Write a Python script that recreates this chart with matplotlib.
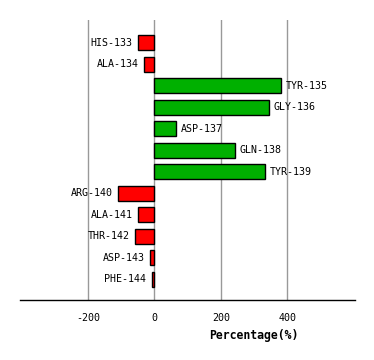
import matplotlib
matplotlib.use("Agg")
import matplotlib.pyplot as plt

residues = ["HIS-133", "ALA-134", "TYR-135", "GLY-136", "ASP-137", "GLN-138",
            "TYR-139", "ARG-140", "ALA-141", "THR-142", "ASP-143", "PHE-144"]
values = [-48, -30, 380, 344, 66, 242, 332, -108, -48, -57, -12, -8]
xticks = [-200, 0, 200, 400]

W, H = 374, 360
fig = plt.figure(figsize=(W / 100, H / 100), dpi=100)
ax = fig.add_axes([20 / W, 1 - 300.3 / H, 334.7 / W, 280.3 / H])

font = "DejaVu Sans Mono"
pos = list(range(len(residues)))
colors = ["#00b000" if v > 0 else "#ff0000" for v in values]
ax.barh(pos, values, height=0.7, color=colors, edgecolor="black", linewidth=1.0, zorder=3)

for p, v, name in zip(pos, values, residues):
    if v >= 0:
        ax.annotate(name, (v, p), xytext=(3.5, 0), textcoords="offset points",
                    ha="left", va="center", fontsize=7.2, family=font)
    else:
        ax.annotate(name, (v, p), xytext=(-4, 0), textcoords="offset points",
                    ha="right", va="center", fontsize=7.2, family=font)

ax.set_xlim(-404, 603)
ax.set_ylim(11.99, -1.06)
ax.set_xticks(xticks)
ax.set_xticklabels([str(t) for t in xticks], family=font, fontsize=7.2)
ax.set_yticks([])
ax.tick_params(axis="x", length=0, pad=9)
ax.grid(axis="x", color="#999999", linewidth=1.0, zorder=0)
for s in ["top", "right", "left"]:
    ax.spines[s].set_visible(False)
ax.spines["bottom"].set_color("black")
ax.spines["bottom"].set_linewidth(1.0)

fig.text(254 / W, 1 - 335 / H, "Percentage(%)", ha="center", va="center",
         fontsize=8.3, family=font, fontweight="bold")

fig.savefig("out.png", dpi=100)
